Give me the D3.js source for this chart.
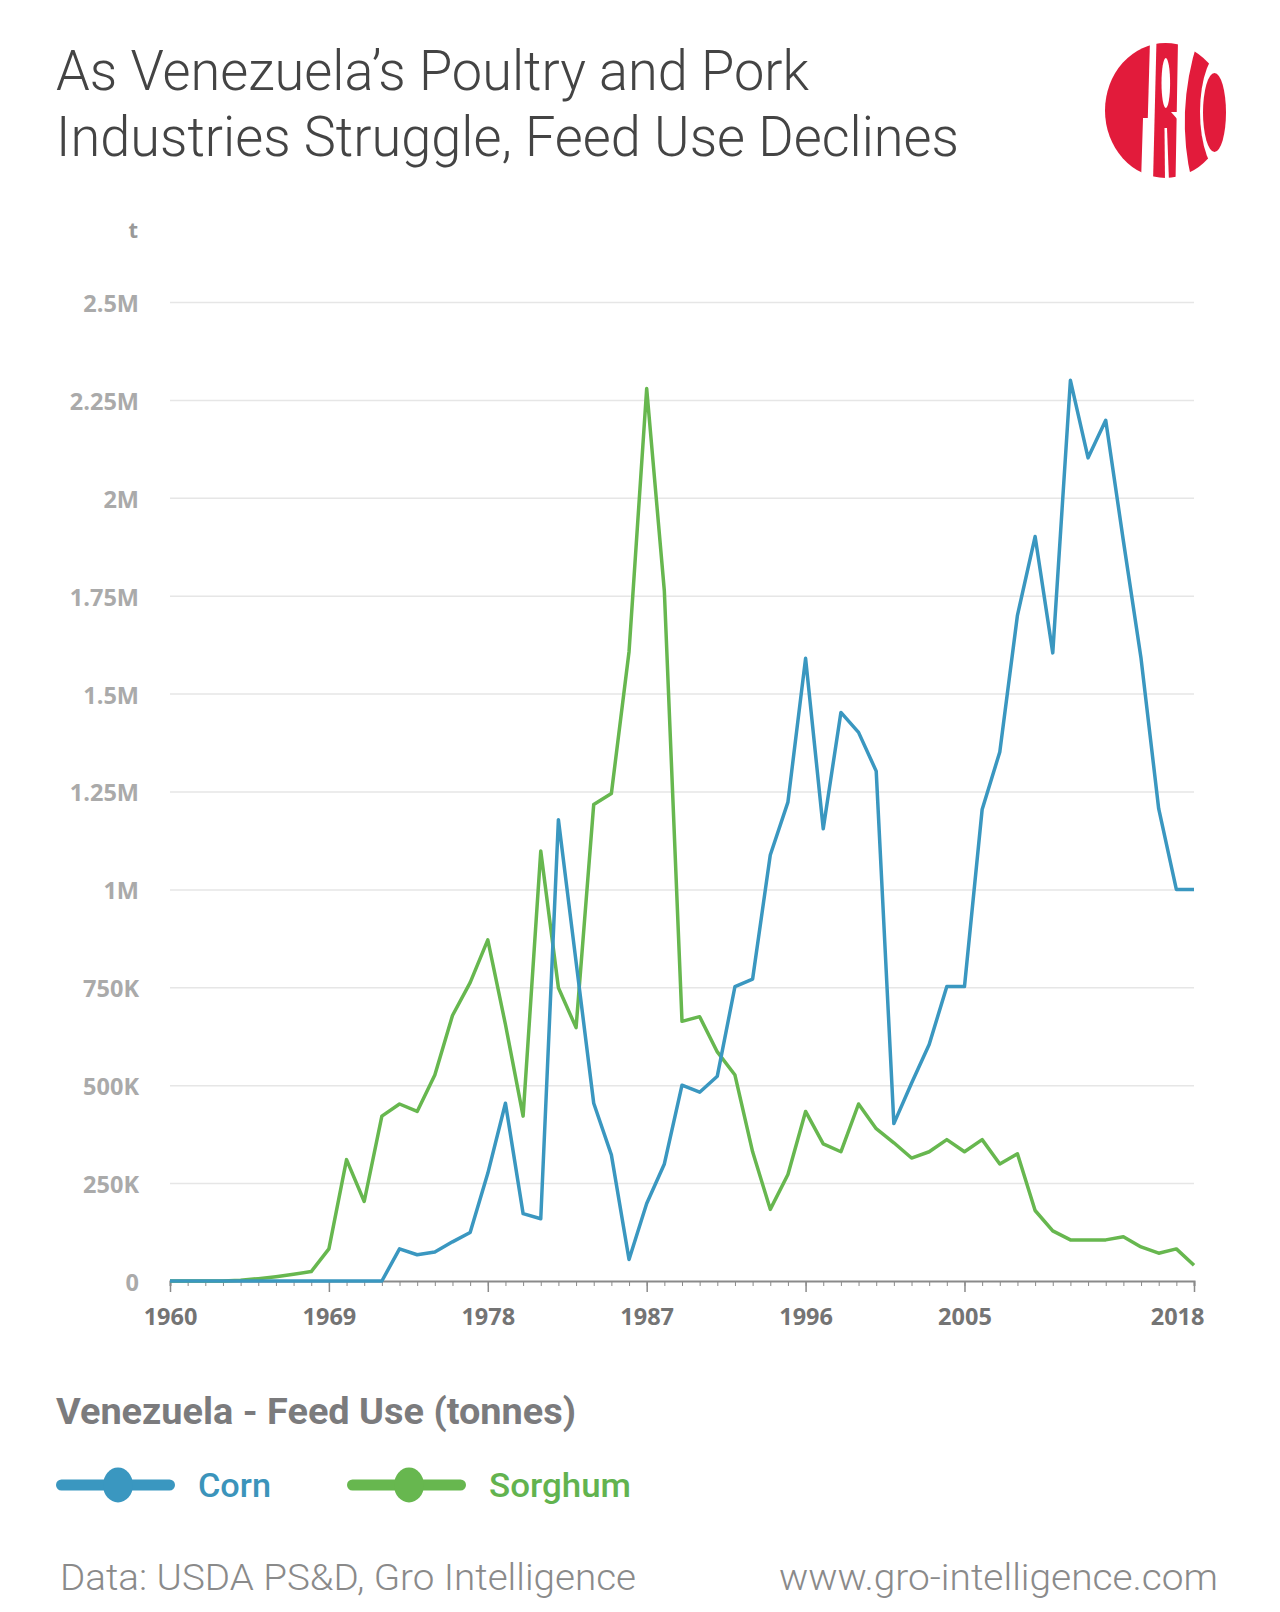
<!DOCTYPE html>
<html>
<head>
<meta charset="utf-8">
<script src="https://cdn.jsdelivr.net/npm/d3@7/dist/d3.min.js"></script>
<style>
  html, body { margin: 0; padding: 0; background: #fff; }
  svg { display: block; }
</style>
</head>
<body>
<svg id="chart" width="1280" height="1612"></svg>
<script>
// ---------------- DATA ----------------
const years = d3.range(1960, 2019);

const cornValues = [
  0, 0, 0, 0, 0, 0, 0, 0, 0, 0,            // 1960-1969
  0, 0, 0, 82000, 67000, 74000, 100000, 124000, 275000, 454000, // 1970-1979
  172000, 159000, 1178000, 815000, 454000, 322000, 55000, 198000, 299000, 500000, // 1980-1989
  482000, 523000, 752000, 771000, 1088000, 1223000, 1590000, 1155000, 1452000, 1401000, // 1990-1999
  1302000, 402000, 505000, 604000, 752000, 752000, 1204000, 1351000, 1700000, 1901000, // 2000-2009
  1604000, 2300000, 2102000, 2198000, 1890000, 1590000, 1206000, 1000000, 1000000 // 2010-2018
];

const sorghumValues = [
  0, 0, 0, 0, 2000, 6000, 11000, 17000, 24000, 82000,            // 1960-1969
  310000, 203000, 421000, 452000, 433000, 526000, 678000, 762000, 871000, 655000, // 1970-1979
  421000, 1098000, 749000, 647000, 1217000, 1245000, 1607000, 2279000, 1762000, 663000, // 1980-1989
  675000, 585000, 526000, 330000, 183000, 272000, 433000, 350000, 330000, 452000, // 1990-1999
  389000, 353000, 314000, 330000, 361000, 330000, 361000, 299000, 325000, 180000, // 2000-2009
  128000, 105000, 105000, 105000, 113000, 87000, 71000, 82000, 40000 // 2010-2018
];

const seriesNames = ["Corn", "Sorghum"];
const seriesColors = ["#3a97c0", "#67b74f"];
const legendTextColors = ["#3b94bb", "#62b34f"];

const yTickValues = [0, 250000, 500000, 750000, 1000000, 1250000, 1500000, 1750000, 2000000, 2250000, 2500000];
const yTickLabels = ["0", "250K", "500K", "750K", "1M", "1.25M", "1.5M", "1.75M", "2M", "2.25M", "2.5M"];
const xLabelYears = [1960, 1969, 1978, 1987, 1996, 2005, 2018];

const titleLines = ["As Venezuela\u2019s Poultry and Pork", "Industries Struggle, Feed Use Declines"];
const unitLabel = "t";
const legendTitle = "Venezuela - Feed Use (tonnes)";
const sourceText = "Data: USDA PS&D, Gro Intelligence";
const siteText = "www.gro-intelligence.com";

// ---------------- LAYOUT ----------------
const svg = d3.select("#chart");
const plot = { left: 170, right: 1194, top: 302, bottom: 1281 };
const tickFont = "'Open Sans', 'DejaVu Sans', sans-serif";

const x = d3.scaleLinear().domain([1960, 2018]).range([plot.left, plot.right]);
const y = d3.scaleLinear().domain([0, 2500000]).range([plot.bottom, plot.top]);

// Title
const titleWidths = [753, 903];
svg.append("g").selectAll("text").data(titleLines).join("text")
  .attr("x", 56)
  .attr("y", (d, i) => 90 + i * 66)
  .attr("font-family", "Roboto, sans-serif")
  .attr("font-weight", 300)
  .attr("font-size", 55)
  .attr("fill", "#444")
  .attr("textLength", (d, i) => titleWidths[i])
  .attr("lengthAdjust", "spacingAndGlyphs")
  .text(d => d);

// Logo
const logo = svg.append("g").attr("class", "logo");
logo.append("ellipse").attr("cx", 1165.5).attr("cy", 110.5).attr("rx", 60.5).attr("ry", 67.5).attr("fill", "#e21b3b");
logo.append("path").attr("d", "M1150,40 L1156.5,40 L1153,182 L1146,182 Z").attr("fill", "#fff");
logo.append("path").attr("d", "M1143,118 L1150,118 L1148,182 L1141,182 Z").attr("fill", "#fff");
logo.append("ellipse").attr("cx", 1165.8).attr("cy", 83).attr("rx", 4.3).attr("ry", 25).attr("fill", "#fff");
logo.append("path").attr("d", "M1171,112 L1179,112 L1179,121 Z").attr("fill", "#fff");
logo.append("path").attr("d", "M1164.5,128 L1167,128 L1169,182 L1165,182 Z").attr("fill", "#fff");
logo.append("path").attr("d", "M1178,40 L1198,40 Q1175,112 1192,182 L1175.5,182 Z").attr("fill", "#fff");
logo.append("ellipse").attr("cx", 1223).attr("cy", 112).attr("rx", 23).attr("ry", 61).attr("fill", "#fff");
logo.append("ellipse").attr("cx", 1214.5).attr("cy", 112.5).attr("rx", 11.5).attr("ry", 39.5).attr("fill", "#e21b3b");

// Gridlines
const grid = svg.append("g")
  .attr("transform", `translate(${plot.left},0)`)
  .call(d3.axisLeft(y).tickValues(yTickValues.slice(1)).tickSize(-(plot.right - plot.left)).tickFormat(""));
grid.select(".domain").remove();
grid.selectAll("line").attr("stroke", "#e6e6e6").attr("stroke-width", 1.5);

// Y axis labels
const yAxis = svg.append("g")
  .attr("transform", `translate(${plot.left},0)`)
  .call(d3.axisLeft(y).tickValues(yTickValues).tickSize(0).tickPadding(31)
    .tickFormat((d, i) => yTickLabels[i]));
yAxis.select(".domain").remove();
yAxis.selectAll("text")
  .attr("font-family", tickFont)
  .attr("font-weight", "bold")
  .attr("font-size", 23.5)
  .attr("fill", "#aaaaaa")
  .attr("dy", "0.4em");

svg.append("text")
  .attr("x", 138).attr("y", 238)
  .attr("text-anchor", "end")
  .attr("font-family", tickFont)
  .attr("font-weight", "bold")
  .attr("font-size", 22)
  .attr("fill", "#999")
  .text(unitLabel);

// X axis: minor ticks every year
const xMinor = svg.append("g")
  .attr("transform", `translate(0,${plot.bottom})`)
  .call(d3.axisBottom(x).tickValues(years).tickSize(5).tickFormat(""));
xMinor.select(".domain").attr("stroke", "#8a8a8a").attr("stroke-width", 2);
xMinor.selectAll(".tick line").attr("stroke", "#8a8a8a").attr("stroke-width", 1);

// X axis: major ticks with labels
const xMajor = svg.append("g")
  .attr("transform", `translate(0,${plot.bottom})`)
  .call(d3.axisBottom(x).tickValues(xLabelYears).tickSize(11).tickPadding(16).tickFormat(d3.format("d")));
xMajor.select(".domain").remove();
xMajor.selectAll(".tick line").attr("stroke", "#8a8a8a").attr("stroke-width", 1.5);
xMajor.selectAll("text")
  .attr("font-family", tickFont)
  .attr("font-weight", "bold")
  .attr("font-size", 23.5)
  .attr("fill", "#747474")
  .filter(d => d === 2018)
  .attr("text-anchor", "end")
  .attr("dx", 10);

// Lines
const seriesData = [cornValues, sorghumValues];
const line = d3.line().x((d, i) => x(years[i])).y(d => y(d));
const drawOrder = [1, 0];
drawOrder.forEach(si => {
  svg.append("path")
    .datum(seriesData[si])
    .attr("fill", "none")
    .attr("stroke", seriesColors[si])
    .attr("stroke-width", 3.5)
    .attr("stroke-linejoin", "round")
    .attr("d", line);
});

// Legend title
svg.append("text")
  .attr("x", 56).attr("y", 1424)
  .attr("font-family", "Roboto, sans-serif")
  .attr("font-weight", "bold")
  .attr("font-size", 36)
  .attr("fill", "#7b7b7d")
  .attr("textLength", 520)
  .attr("lengthAdjust", "spacingAndGlyphs")
  .text(legendTitle);

// Legend items
const legendX = [56, 347];
const legendTextWidths = [73, 142];
seriesNames.forEach((name, i) => {
  const g = svg.append("g").attr("transform", `translate(${legendX[i]},1485)`);
  g.append("line").attr("x1", 5.5).attr("x2", 113.5).attr("y1", 0).attr("y2", 0)
    .attr("stroke", seriesColors[i]).attr("stroke-width", 11).attr("stroke-linecap", "round");
  g.append("ellipse").attr("cx", 62).attr("cy", 0).attr("rx", 15).attr("ry", 17.5).attr("fill", seriesColors[i]);
  g.append("text").attr("x", 142).attr("y", 12)
    .attr("font-family", "Roboto, sans-serif")
    .attr("font-weight", 500)
    .attr("font-size", 34)
    .attr("fill", legendTextColors[i])
    .attr("textLength", legendTextWidths[i])
    .attr("lengthAdjust", "spacingAndGlyphs")
    .text(name);
});

// Footer
svg.append("text")
  .attr("x", 60).attr("y", 1590)
  .attr("font-family", "Roboto, sans-serif")
  .attr("font-weight", 300)
  .attr("font-size", 36)
  .attr("fill", "#8a8a8a")
  .attr("textLength", 576)
  .attr("lengthAdjust", "spacingAndGlyphs")
  .text(sourceText);
svg.append("text")
  .attr("x", 779).attr("y", 1590)
  .attr("font-family", "Roboto, sans-serif")
  .attr("font-weight", 300)
  .attr("font-size", 36)
  .attr("fill", "#8a8a8a")
  .attr("textLength", 439)
  .attr("lengthAdjust", "spacingAndGlyphs")
  .text(siteText);
</script>
</body>
</html>
